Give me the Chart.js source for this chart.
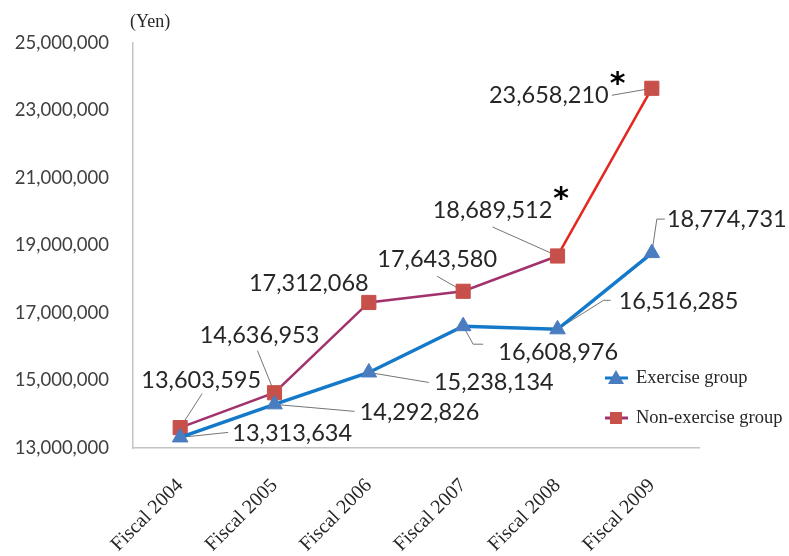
<!DOCTYPE html>
<html>
<head>
<meta charset="utf-8">
<title>Medical costs by group</title>
<script src="https://cdn.jsdelivr.net/npm/chart.js@4"></script>
<style>
  html, body { margin: 0; padding: 0; background: #fff; }
  #wrap { width: 789px; height: 556px; }
</style>
</head>
<body>
<div id="wrap"><canvas id="costChart"></canvas></div>
<script>
// Data
const years = ["Fiscal 2004", "Fiscal 2005", "Fiscal 2006", "Fiscal 2007", "Fiscal 2008", "Fiscal 2009"];
const exerciseGroup = [13313634, 14292826, 15238134, 16608976, 16516285, 18774731];
const nonExerciseGroup = [13603595, 14636953, 17312068, 17643580, 18689512, 23658210];
const yTicks = [13000000, 15000000, 17000000, 19000000, 21000000, 23000000, 25000000];
// points flagged with an asterisk (non-exercise group)
const starred = [4, 5];

const BLUE = "#1479c9";
const BLUE_MARK = "#4a7cc0";
const PURPLE = "#a2326c";
const RED_LINE = "#e3261e";
const RED_MARK = "#c8504a";

// label placement: text centre offset from the point, then leader polyline (offsets)
const exerciseLabelPos = [
  { t: [112, -4], lead: [[48, -5]] },
  { t: [145, 8], lead: [[80, 7]] },
  { t: [125, 10], lead: [[60, 10]] },
  { t: [95, 26], lead: [[10, 18], [20, 18]] },
  { t: [121, -28], lead: [[46, -29], [53, -29]] },
  { t: [75, -34], lead: [[5, -34], [13, -34]] }
];
const nonExerciseLabelPos = [
  { t: [21, -47], lead: [[22, -34]] },
  { t: [-15, -57], lead: [[-17, -42]] },
  { t: [-60, -19], lead: null },
  { t: [-26, -32], lead: [[-26, -15]] },
  { t: [-65, -46], lead: [[-65, -29]] },
  { t: [-103, 7], lead: [[-40, 7]] }
];

const fmt = v => v.toLocaleString("en-US");

const valueLabels = {
  id: "valueLabels",
  beforeDatasetsDraw(chart) {
    const ctx = chart.ctx;
    ctx.save();
    ctx.strokeStyle = "#505050";
    ctx.lineWidth = 0.8;
    [[0, exerciseLabelPos], [1, nonExerciseLabelPos]].forEach(([di, pos]) => {
      chart.getDatasetMeta(di).data.forEach((pt, i) => {
        const p = pos[i];
        if (!p.lead) return;
        ctx.beginPath();
        ctx.moveTo(pt.x, pt.y);
        p.lead.forEach(o => ctx.lineTo(pt.x + o[0], pt.y + o[1]));
        ctx.stroke();
      });
    });
    ctx.restore();
  },
  afterDatasetsDraw(chart) {
    const ctx = chart.ctx;
    ctx.save();
    ctx.fillStyle = "#262626";
    ctx.font = "23.5px Lato";
    ctx.textAlign = "center";
    ctx.textBaseline = "middle";
    [[0, exerciseLabelPos], [1, nonExerciseLabelPos]].forEach(([di, pos]) => {
      const vals = chart.data.datasets[di].data;
      chart.getDatasetMeta(di).data.forEach((pt, i) => {
        const p = pos[i];
        const x = pt.x + p.t[0], y = pt.y + p.t[1];
        ctx.fillText(fmt(vals[i]), x, y);
        if (di === 1 && starred.includes(i)) {
          const w = ctx.measureText(fmt(vals[i])).width;
          ctx.save();
          ctx.font = "bold 30px 'DejaVu Sans'";
          ctx.fillStyle = "#000";
          ctx.textAlign = "left";
          ctx.fillText("*", x + w / 2 + 1, y - 10);
          ctx.restore();
        }
      });
    });
    ctx.restore();
  }
};

// unit caption and legend
const extras = {
  id: "extras",
  afterDraw(chart) {
    const ctx = chart.ctx;
    ctx.save();
    ctx.fillStyle = "#262626";
    ctx.font = "18px 'Liberation Serif'";
    ctx.textBaseline = "middle";
    ctx.fillText("(Yen)", 130, 22);

    ctx.font = "18.5px 'Liberation Serif'";
    const items = [
      { label: "Exercise group", y: 378, line: BLUE, mark: BLUE_MARK, shape: "triangle" },
      { label: "Non-exercise group", y: 418, line: PURPLE, mark: RED_MARK, shape: "rect" }
    ];
    items.forEach(it => {
      ctx.strokeStyle = it.line;
      ctx.lineWidth = 3;
      ctx.beginPath();
      ctx.moveTo(605, it.y);
      ctx.lineTo(628, it.y);
      ctx.stroke();
      ctx.fillStyle = it.mark;
      ctx.beginPath();
      if (it.shape === "triangle") {
        ctx.moveTo(616, it.y - 8);
        ctx.lineTo(624, it.y + 6);
        ctx.lineTo(608, it.y + 6);
        ctx.closePath();
      } else {
        ctx.rect(610, it.y - 6, 12, 12);
      }
      ctx.fill();
      ctx.fillStyle = "#262626";
      ctx.fillText(it.label, 636, it.y);
    });
    ctx.restore();
  }
};

new Chart(document.getElementById("costChart"), {
  type: "line",
  data: {
    labels: years,
    datasets: [
      {
        label: "Exercise group",
        data: exerciseGroup,
        borderColor: BLUE,
        borderWidth: 3.5,
        pointStyle: "triangle",
        pointRadius: 9,
        pointBackgroundColor: BLUE_MARK,
        pointBorderColor: BLUE_MARK,
        pointBorderWidth: 1,
        tension: 0
      },
      {
        label: "Non-exercise group",
        data: nonExerciseGroup,
        borderColor: PURPLE,
        borderWidth: 2.5,
        segment: {
          borderColor: c => (c.p1DataIndex === 5 ? RED_LINE : PURPLE)
        },
        pointStyle: "rect",
        pointRadius: 10,
        pointBackgroundColor: RED_MARK,
        pointBorderColor: RED_MARK,
        pointBorderWidth: 1,
        tension: 0
      }
    ]
  },
  options: {
    responsive: true,
    maintainAspectRatio: false,
    animation: false,
    devicePixelRatio: 1,
    layout: { padding: { top: 43, right: 90, bottom: 0, left: 0 } },
    plugins: {
      legend: { display: false },
      tooltip: { enabled: false }
    },
    scales: {
      x: {
        offset: true,
        grid: { display: false, drawTicks: false },
        border: { color: "#c4c4c4", width: 1.5 },
        ticks: {
          minRotation: 45,
          maxRotation: 45,
          padding: 26,
          color: "#262626",
          font: { family: "'Liberation Serif'", size: 20 }
        },
        afterFit: s => { s.height = 108; }
      },
      y: {
        min: 13000000,
        max: 25000000,
        grid: { display: false, drawTicks: false },
        border: { color: "#c4c4c4", width: 1.5 },
        afterBuildTicks: s => { s.ticks = yTicks.map(v => ({ value: v })); },
        ticks: {
          padding: 24,
          color: "#404040",
          font: { family: "Lato", size: 18.5 },
          callback: v => fmt(v)
        },
        afterFit: s => { s.width = 133; }
      }
    }
  },
  plugins: [valueLabels, extras]
});
</script>
</body>
</html>
